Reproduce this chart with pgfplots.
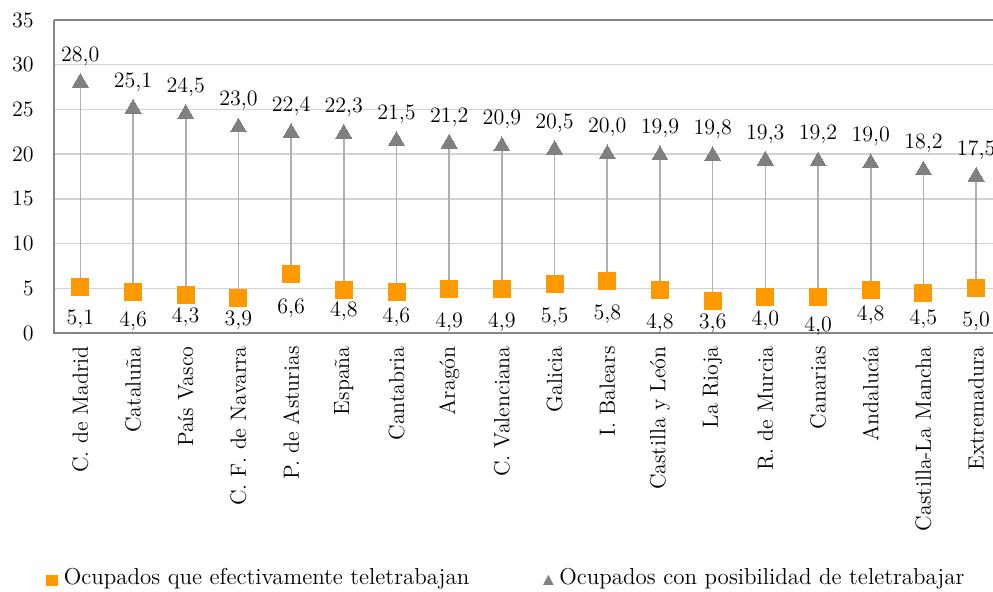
\documentclass[border=0pt]{standalone}
\usepackage{fontspec}
\usepackage{pgfplots}
\usepackage{pgfplotstable}
\pgfplotsset{compat=1.18}
\definecolor{sqOrange}{RGB}{255,153,0}
\definecolor{triGray}{RGB}{128,128,128}
\definecolor{lineGray}{RGB}{175,175,175}
\definecolor{gridGray}{RGB}{210,210,210}
\definecolor{frameGray}{RGB}{134,134,134}
% x, effective (sq), possible (tri), position of the label of sq
\pgfplotstableread{
x sq tri ly
0 5.1 28.0 1.26
1 4.6 25.1 1.15
2 4.3 24.5 1.57
3 3.9 23.0 1.15
4 6.6 22.4 2.57
5 4.8 22.3 2.24
6 4.6 21.5 1.57
7 4.9 21.2 1.01
8 4.9 20.9 1.01
9 5.5 20.5 1.57
10 5.8 20.0 1.90
11 4.8 19.9 0.89
12 3.6 19.8 0.89
13 4.0 19.3 1.23
14 4.0 19.2 0.56
15 4.8 19.0 1.79
16 4.5 18.2 1.34
17 5.0 17.5 1.12
}\datatable
\tikzset{
  lblfmt/.style={/pgf/number format/.cd, use comma, fixed, fixed zerofill, precision=1, assume math mode=true, /tikz/.cd}
}
\begin{document}
\fontsize{11}{13}\selectfont
\begin{tikzpicture}
\begin{axis}[
  at={(0,0)}, anchor=south west,
  width=469.5pt, height=156.5pt, scale only axis,
  xmin=-0.5, xmax=17.32, ymin=0, ymax=35,
  ytick={0,5,...,35},
  xtick={0,...,17},
  xticklabels={C. de Madrid, Cataluña, País Vasco, C. F. de Navarra, P. de Asturias, España, Cantabria, Aragón, C. Valenciana, Galicia, I. Balears, Castilla y León, La Rioja, R. de Murcia, Canarias, Andalucía, Castilla-La Mancha, Extremadura},
  xticklabel style={rotate=90, anchor=east, inner sep=0pt},
  xticklabel shift=6.5pt,
  yticklabel style={inner sep=0pt, xshift=-10pt},
  major tick length=0pt,
  axis line style={draw=none},
  ymajorgrids, grid style={color=gridGray, line width=0.7pt},
  /pgf/number format/assume math mode=true,
  clip=false,
  legend columns=2,
  legend style={at={(rel axis cs:-0.0085,-0.783)}, anchor=west, draw=none, fill=none, inner sep=0pt, font=\fontsize{11.5}{13}\selectfont,
    nodes={inner sep=0pt, anchor=base west},
    /tikz/every odd column/.append style={column sep=3pt},
    /tikz/every even column/.append style={column sep=37pt}},
]
\draw[frameGray, line width=1.3pt] (rel axis cs:0,1) -- (rel axis cs:0,0) -- (rel axis cs:1.02,0);
\draw[frameGray, line width=1.3pt] (rel axis cs:0,1) -- (rel axis cs:1.02,1);
\addplot[only marks, mark=none, forget plot, error bars/.cd, y dir=plus, y explicit, error mark=none,
  error bar style={solid, draw=lineGray, line width=0.8pt}]
  table[x=x, y=sq, y error expr=\thisrow{tri}-\thisrow{sq}] {\datatable};
\addplot[only marks, color=sqOrange, mark=square*, mark size=4.25pt, mark options={fill=sqOrange, draw=sqOrange, line width=0pt},
  legend image code/.code={\fill[sqOrange] (0pt,-0.5pt) rectangle (5.3pt,4.8pt);}]
  table[x=x, y=sq] {\datatable};
\addlegendentry{Ocupados que efectivamente teletrabajan}
\addplot[only marks, color=triGray, mark=triangle*, mark size=4.6pt, mark options={fill=triGray, draw=triGray, line width=0pt},
  nodes near coords, nodes near coords style={lblfmt, anchor=center, yshift=13.3pt, text=black, font=\fontsize{11}{13}\selectfont},
  legend image code/.code={\fill[triGray] (0pt,0pt) -- (4.6pt,0pt) -- (2.3pt,4.4pt) -- cycle;}]
  table[x=x, y=tri] {\datatable};
\addlegendentry{Ocupados con posibilidad de teletrabajar}
\addplot[only marks, mark=none, forget plot, point meta=explicit,
  nodes near coords, nodes near coords style={lblfmt, anchor=center, yshift=1pt, text=black, font=\fontsize{11}{13}\selectfont}]
  table[x=x, y=ly, meta=sq] {\datatable};
\end{axis}
\pgfresetboundingbox
\useasboundingbox (-27pt,-129pt) rectangle (469.5pt,166.5pt);
\end{tikzpicture}
\end{document}
